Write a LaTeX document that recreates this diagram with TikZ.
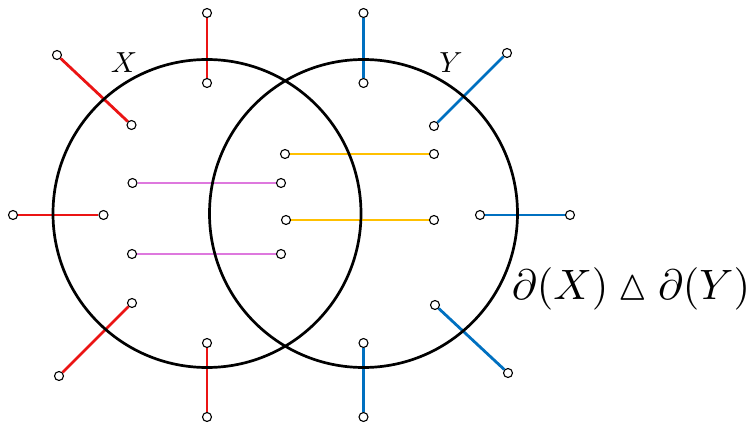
\documentclass[tikz,border=0pt]{standalone}
\usepackage{amsmath,amssymb}
\definecolor{cred}{RGB}{235,20,20}
\definecolor{cblue}{RGB}{0,112,192}
\definecolor{cyel}{RGB}{255,192,0}
\definecolor{cmag}{RGB}{222,120,222}
\begin{document}
\begin{tikzpicture}[x=1pt,y=-1pt,
  dot/.style={circle,draw=black,fill=white,inner sep=0pt,minimum size=9pt,line width=1.1pt},
  bigset/.style={circle,draw=black,line width=2.7pt,inner sep=0pt,minimum size=308pt},
  edge/.style={line width=2.8pt},
  lbl/.style={scale=2.9,inner sep=0pt}]
\useasboundingbox (0,0) rectangle (753,423);
% dots
\node[dot] (r1o) at (207,13) {};
\node[dot] (r1i) at (207,83) {};
\node[dot] (r2o) at (57,55) {};
\node[dot] (r2i) at (131.5,125) {};
\node[dot] (r3o) at (13,215) {};
\node[dot] (r3i) at (103.5,215) {};
\node[dot] (r4i) at (132,303) {};
\node[dot] (r4o) at (59,376) {};
\node[dot] (r5i) at (207,343) {};
\node[dot] (r5o) at (207,417) {};
\node[dot] (m1a) at (132.5,183) {};
\node[dot] (m1b) at (281,183) {};
\node[dot] (m2a) at (132,254) {};
\node[dot] (m2b) at (281,254) {};
\node[dot] (y1a) at (285,154) {};
\node[dot] (y1b) at (434,154) {};
\node[dot] (y2a) at (286,220) {};
\node[dot] (y2b) at (434,220) {};
\node[dot] (b1o) at (363.5,13) {};
\node[dot] (b1i) at (363.5,83) {};
\node[dot] (b2o) at (507,53) {};
\node[dot] (b2i) at (434,126) {};
\node[dot] (b3i) at (480,215) {};
\node[dot] (b3o) at (570,215) {};
\node[dot] (b4i) at (435,305) {};
\node[dot] (b4o) at (508,373) {};
\node[dot] (b5i) at (363.5,343) {};
\node[dot] (b5o) at (363.5,417) {};
% edges
\draw[edge,cred] (r1o) -- (r1i);
\draw[edge,cred] (r2o) -- (r2i);
\draw[edge,cred] (r3o) -- (r3i);
\draw[edge,cred] (r4o) -- (r4i);
\draw[edge,cred] (r5o) -- (r5i);
\draw[edge,cmag] (m1a) -- (m1b);
\draw[edge,cmag] (m2a) -- (m2b);
\draw[edge,cyel] (y1a) -- (y1b);
\draw[edge,cyel] (y2a) -- (y2b);
\draw[edge,cblue] (b1o) -- (b1i);
\draw[edge,cblue] (b2o) -- (b2i);
\draw[edge,cblue] (b3o) -- (b3i);
\draw[edge,cblue] (b4o) -- (b4i);
\draw[edge,cblue] (b5o) -- (b5i);
% big sets
\node[bigset] (X) at (207,213.5) {};
\node[bigset] (Y) at (363.5,213.5) {};
\node[lbl] (lx) at (124,63) {$X$};
\node[lbl] (ly) at (451,63) {$Y$};
\node[scale=4.25,inner sep=0pt] (sd) at (631,289) {$\partial(X)\mathbin{\vartriangle}\partial(Y)$};
\end{tikzpicture}
\end{document}
